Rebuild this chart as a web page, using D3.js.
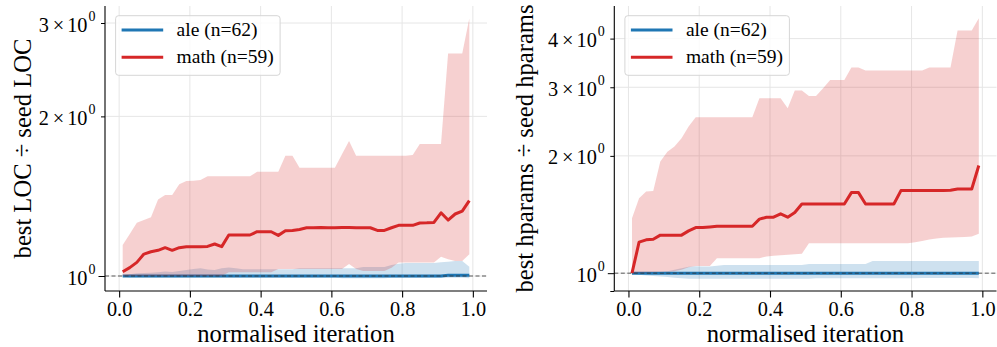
<!DOCTYPE html>
<html>
<head>
<meta charset="utf-8">
<script src="https://cdn.jsdelivr.net/npm/d3@7"></script>
<style>
  html, body { margin: 0; padding: 0; background: #fff; }
  svg { display: block; }
  text { font-family: "Liberation Serif", "Times New Roman", serif; fill: #000; }
</style>
</head>
<body>
<svg id="chart" width="997" height="347"></svg>
<script>
// ---------------- data ----------------
const iterations = [0.01,0.03,0.05,0.07,0.09,0.11,0.13,0.15,0.17,0.19,
  0.21,0.23,0.25,0.27,0.29,0.31,0.33,0.35,0.37,0.39,
  0.41,0.43,0.45,0.47,0.49,0.51,0.53,0.55,0.57,0.59,
  0.61,0.63,0.65,0.67,0.69,0.71,0.73,0.75,0.77,0.79,
  0.81,0.83,0.85,0.87,0.89,0.91,0.93,0.95,0.97,0.99];

const seriesNames = ["ale (n=62)", "math (n=59)"];
const xTicks = [0.0, 0.2, 0.4, 0.6, 0.8, 1.0];

// Left panel: best LOC / seed LOC
const locAleMedian = [1,1,1,1,1,1,1,1,1,1, 1,1,1,1,1,1,1,1,1,1,
  1,1,1,1,1,1,1,1,1,1, 1,1,1,1,1,1,1,1,1,1, 1,1,1,1,1,1,1.003,1.003,1.003,1.003];
const locAleLower = [0.998,0.994,0.994,0.994,0.994,0.994,0.994,0.994,0.994,0.994,
  0.994,0.994,0.994,0.994,0.994,0.994,0.994,0.994,0.994,0.994,
  0.994,0.994,0.994,0.994,0.994,0.994,0.994,0.994,0.994,0.994,
  0.994,0.990,0.990,0.990,0.990,0.990,0.990,0.990,0.993,0.993,
  0.993,0.993,0.993,0.993,0.993,0.993,0.993,0.993,0.993,0.990];
const locAleUpper = [1.003,1.008,1.012,1.013,1.014,1.017,1.020,1.018,1.022,1.026,
  1.031,1.034,1.029,1.026,1.034,1.038,1.034,1.030,1.030,1.030,
  1.030,1.030,1.030,1.030,1.030,1.034,1.034,1.034,1.034,1.034,
  1.034,1.034,1.034,1.034,1.040,1.040,1.040,1.040,1.049,1.055,
  1.058,1.058,1.058,1.058,1.058,1.062,1.064,1.067,1.067,1.041];
const locMathMedian = [1.019,1.037,1.061,1.100,1.111,1.118,1.131,1.118,1.131,1.136,
  1.136,1.136,1.137,1.149,1.136,1.195,1.195,1.195,1.195,1.212,
  1.212,1.212,1.193,1.217,1.219,1.224,1.233,1.233,1.235,1.233,
  1.233,1.235,1.235,1.233,1.233,1.233,1.219,1.219,1.233,1.246,
  1.246,1.246,1.259,1.260,1.262,1.316,1.275,1.309,1.326,1.387];
const locMathLower = [1,1,1,1,1,1,1,1,1,1,
  1,1,1,1,1,1.016,1.016,1.016,1.016,1.016,
  1.016,1.016,1.031,1.031,1.031,1.031,1.031,1.031,1.031,1.031,
  1.031,1.031,1.053,1.031,1.022,1.022,1.022,1.022,1.037,1.061,
  1.061,1.061,1.061,1.061,1.061,1.087,1.075,1.067,1.067,1.099];
const locMathUpper = [1.144,1.200,1.260,1.275,1.290,1.394,1.421,1.421,1.489,1.510,
  1.513,1.517,1.543,1.543,1.543,1.543,1.543,1.543,1.543,1.573,
  1.573,1.573,1.573,1.686,1.686,1.600,1.600,1.600,1.600,1.600,
  1.600,1.696,1.797,1.686,1.686,1.686,1.686,1.686,1.686,1.686,
  1.686,1.691,1.774,1.774,1.774,1.774,2.629,2.629,2.629,3.060];

// Right panel: best hparams / seed hparams
const hpAleMedian = [1,1,1,1,1,1,1,1,1,1, 1,1,1,1,1,1,1,1,1,1,
  1,1,1,1,1,1,1,1,1,1, 1,1,1,1,1,1,1,1,1,1, 1,1,1,1,1,1,1,1,1,1];
const hpAleLower = [0.997,0.990,0.987,0.984,0.980,0.977,0.973,0.971,0.967,0.967,
  0.967,0.967,0.967,0.967,0.967,0.967,0.967,0.967,0.967,0.967,
  0.967,0.967,0.967,0.967,0.967,0.967,0.970,0.970,0.970,0.970,
  0.970,0.970,0.970,0.970,0.970,0.970,0.970,0.970,0.970,0.970,
  0.970,0.972,0.972,0.972,0.972,0.972,0.972,0.972,0.972,0.970];
const hpAleUpper = [1.000,1.002,1.004,1.006,1.008,1.012,1.020,1.030,1.038,1.042,
  1.040,1.040,1.045,1.050,1.050,1.050,1.050,1.050,1.050,1.050,
  1.050,1.050,1.050,1.050,1.050,1.056,1.056,1.056,1.056,1.056,
  1.056,1.056,1.056,1.056,1.075,1.075,1.075,1.075,1.075,1.075,
  1.075,1.075,1.075,1.075,1.075,1.075,1.075,1.075,1.075,1.075];
const hpMathMedian = [1.000,1.201,1.218,1.222,1.252,1.252,1.252,1.252,1.284,1.309,
  1.309,1.314,1.320,1.320,1.320,1.320,1.320,1.320,1.376,1.392,
  1.392,1.420,1.392,1.431,1.505,1.505,1.505,1.505,1.505,1.505,
  1.505,1.610,1.610,1.505,1.505,1.505,1.505,1.505,1.629,1.629,
  1.629,1.629,1.629,1.629,1.631,1.633,1.645,1.645,1.645,1.889];
const hpMathLower = [1.000,1.002,1.004,1.006,1.008,1.009,1.012,1.020,1.035,1.044,
  1.044,1.044,1.093,1.093,1.093,1.093,1.093,1.093,1.093,1.103,
  1.108,1.112,1.115,1.118,1.121,1.194,1.194,1.194,1.194,1.194,
  1.194,1.194,1.194,1.194,1.194,1.194,1.194,1.194,1.194,1.194,
  1.200,1.210,1.220,1.228,1.232,1.235,1.236,1.238,1.242,1.262];
const hpMathUpper = [1.384,1.557,1.620,1.625,1.934,2.051,2.113,2.221,2.378,2.513,
  2.513,2.513,2.513,2.513,2.513,2.513,2.513,2.513,2.812,2.812,
  2.812,2.812,2.652,2.942,2.942,2.851,2.851,2.984,3.133,3.133,
  3.133,3.371,3.371,3.311,3.311,3.311,3.311,3.311,3.311,3.311,
  3.311,3.311,3.371,3.371,3.371,3.371,4.195,4.195,4.195,4.512];

// ---------------- layout ----------------
const colors = ["#1f77b4", "#d62728"];
const svg = d3.select("#chart");
const FONT_TICK = 20.3, FONT_LABEL = 24.6, FONT_LEGEND = 19.5;
const SERIF = '"Liberation Serif", "Times New Roman", serif';

const panels = [
  { left: 105, right: 487, top: 6, bottom: 291, ydom: [0.937, 3.23],
    yLabelTicks: [1, 2, 3], yExtraTicks: [], ylabel: "best LOC ÷ seed LOC", ylabelX: 31,
    series: [
      { med: locAleMedian, lo: locAleLower, hi: locAleUpper },
      { med: locMathMedian, lo: locMathLower, hi: locMathUpper } ] },
  { left: 614.3, right: 996.5, top: 6, bottom: 291, ydom: [0.9, 4.85],
    yLabelTicks: [1, 2, 3, 4], yExtraTicks: [0.9], ylabel: "best hparams ÷ seed hparams", ylabelX: 533,
    series: [
      { med: hpAleMedian, lo: hpAleLower, hi: hpAleUpper },
      { med: hpMathMedian, lo: hpMathLower, hi: hpMathUpper } ] }
];

panels.forEach((p, pi) => {
  const x = d3.scaleLinear().domain([-0.04, 1.04]).range([p.left, p.right]);
  const y = d3.scaleLog().domain(p.ydom).range([p.bottom, p.top]);
  const g = svg.append("g").style("font-family", SERIF);

  // grid
  g.append("g").selectAll("line").data(xTicks).join("line")
    .attr("x1", d => x(d)).attr("x2", d => x(d))
    .attr("y1", p.top).attr("y2", p.bottom)
    .attr("stroke", "#e6e6e6").attr("stroke-width", 1);
  g.append("g").selectAll("line").data(p.yLabelTicks).join("line")
    .attr("x1", p.left).attr("x2", p.right)
    .attr("y1", d => y(d)).attr("y2", d => y(d))
    .attr("stroke", "#e6e6e6").attr("stroke-width", 1);

  // series
  const clipId = "clip" + pi;
  svg.append("clipPath").attr("id", clipId).append("rect")
    .attr("x", p.left).attr("y", p.top).attr("width", p.right - p.left).attr("height", p.bottom - p.top);
  const plot = g.append("g").attr("clip-path", `url(#${clipId})`);
  p.series.forEach((s, si) => {
    const area = d3.area()
      .x((d, i) => x(iterations[i]))
      .y0((d, i) => y(s.lo[i]))
      .y1((d, i) => y(s.hi[i]));
    plot.append("path").datum(s.med).attr("d", area)
      .attr("fill", colors[si]).attr("fill-opacity", 0.22).attr("stroke", "none");
    const line = d3.line().x((d, i) => x(iterations[i])).y(d => y(d));
    plot.append("path").datum(s.med).attr("d", line)
      .attr("fill", "none").attr("stroke", colors[si]).attr("stroke-width", 3)
      .attr("stroke-linejoin", "round");
  });

  // dashed reference at 1
  g.append("line").attr("x1", p.left).attr("x2", pi === 1 ? 997 : p.right)
    .attr("y1", y(1)).attr("y2", y(1))
    .attr("stroke", "#333").attr("stroke-opacity", 0.8).attr("stroke-width", 1)
    .attr("stroke-dasharray", "4,2.5");

  // x axis
  const xAxis = d3.axisBottom(x).tickValues(xTicks).tickFormat(d3.format(".1f"))
    .tickSize(6.5).tickSizeOuter(0);
  const xa = g.append("g").attr("transform", `translate(0,${p.bottom})`).call(xAxis)
    .attr("font-family", null).attr("font-size", null);
  xa.select(".domain").attr("stroke", "#000").attr("stroke-width", 1.1)
    .attr("d", `M${p.left},0H${p.right}`);
  xa.selectAll(".tick line").attr("stroke", "#000").attr("stroke-width", 1.1);
  xa.selectAll(".tick text").attr("y", 25).attr("dy", null)
    .style("font-family", SERIF)
    .style("font-size", FONT_TICK + "px").attr("fill", "#000");

  // y axis (spine + ticks)
  const yAxis = d3.axisLeft(y).tickValues(p.yLabelTicks.concat(p.yExtraTicks))
    .tickFormat("").tickSize(4).tickSizeOuter(0);
  const ya = g.append("g").attr("transform", `translate(${p.left},0)`).call(yAxis);
  ya.select(".domain").attr("stroke", "#000").attr("stroke-width", 1.1)
    .attr("d", `M0,${p.bottom}V${p.top}`);
  ya.selectAll(".tick line").attr("stroke", "#000").attr("stroke-width", 1)
    .attr("x2", d => (d === 1 ? -6.5 : -4));

  // y tick labels with superscripts
  p.yLabelTicks.forEach(v => {
    const t = g.append("text").attr("x", p.left - 9.5).attr("y", y(v) + 8.5)
      .attr("text-anchor", "end").style("font-size", FONT_TICK + "px");
    if (v !== 1) {
      t.append("tspan").text(String(v));
      t.append("tspan").attr("dx", 4).text("×");
      t.append("tspan").attr("dx", 3).text("10");
    } else {
      t.append("tspan").text("10");
    }
    t.append("tspan").attr("dy", -11).attr("dx", 1).style("font-size", "14px").text("0");
  });

  // axis labels
  g.append("text").attr("x", (p.left + p.right) / 2).attr("y", 341.5)
    .attr("text-anchor", "middle").style("font-size", FONT_LABEL + "px")
    .text("normalised iteration");
  g.append("text").attr("transform", `translate(${p.ylabelX},${(p.top + p.bottom) / 2}) rotate(-90)`)
    .attr("text-anchor", "middle").style("font-size", FONT_LABEL + "px")
    .text(p.ylabel);

  // legend
  const lg = g.append("g").attr("transform", `translate(${p.left + 10.6},15.7)`);
  lg.append("rect").attr("width", 164.5).attr("height", 59.6).attr("rx", 3)
    .attr("fill", "#fff").attr("fill-opacity", 0.8)
    .attr("stroke", "#d6d6d6").attr("stroke-width", 1);
  seriesNames.forEach((name, i) => {
    const yy = 14.3 + i * 27.3;
    lg.append("line").attr("x1", 6).attr("x2", 47.6).attr("y1", yy).attr("y2", yy)
      .attr("stroke", colors[i]).attr("stroke-width", 3);
    lg.append("text").attr("x", 61).attr("y", yy + 6)
      .style("font-size", FONT_LEGEND + "px").text(name);
  });
});
</script>
</body>
</html>
